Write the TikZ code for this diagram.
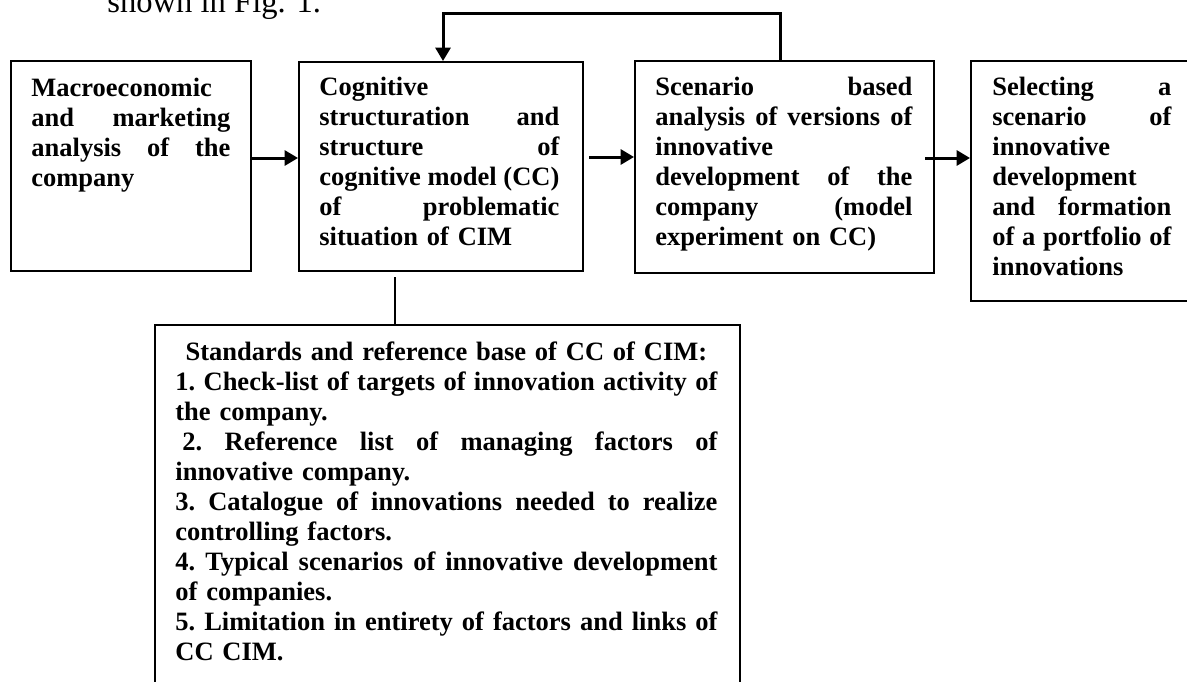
\documentclass[tikz,border=0pt]{standalone}
\usepackage{fontspec}
\setmainfont{Liberation Serif}
\usetikzlibrary{arrows.meta}

\newcommand{\jl}[1]{\makebox[\linewidth][s]{\frenchspacing\spaceskip=\fontdimen2\font plus 1fil\relax #1}}

\begin{document}
\begin{tikzpicture}[
    x = 0.5pt, y = -0.5pt,
    > = {Triangle[length=6.7pt, width=7.5pt]},
    box/.style = {draw, line width=1pt, anchor=north west, inner sep=0pt},
    txt/.style = {anchor=base west, inner sep=0pt, align=left,
        font=\fontsize{13.25}{15}\selectfont\bfseries},
    arr/.style = {->, line width=1.5pt}
]
    \useasboundingbox (0,0) rectangle (1187,681);

    \node[anchor=base west, inner sep=0pt, font=\fontsize{16.3}{19}\selectfont] (fig) at (107,12.5) {shown in Fig. 1.};

    % boxes
    \node[box, minimum width=120pt, minimum height=105pt] (mac) at (10,60) {};
    \node[box, minimum width=142pt, minimum height=104.5pt] (cog) at (298,61) {};
    \node[box, minimum width=149.5pt, minimum height=106pt] (scen) at (634,60) {};
    \node[box, minimum width=115pt, minimum height=120pt] (sel) at (970,60) {};
    \node[box, minimum width=292.5pt, minimum height=198pt] (std) at (154,324) {};

    % texts
    \node[txt, text width=99.5pt] (mact) at (31,96) {Macroeconomic\\
        \jl{and marketing}\\
        \jl{analysis of the}\\
        company};
    \node[txt, text width=120pt] (cogt) at (319,95) {Cognitive\\
        \jl{structuration and}\\
        \jl{structure of}\\
        \jl{cognitive model (CC)}\\
        \jl{of problematic}\\
        situation of CIM};
    \node[txt, text width=128.5pt] (scent) at (655,95) {\jl{Scenario based}\\
        \jl{analysis of versions of}\\
        innovative\\
        \jl{development of the}\\
        \jl{company (model}\\
        experiment on CC)};
    \node[txt, text width=89.5pt] (selt) at (992,95) {\jl{Selecting a}\\
        \jl{scenario of}\\
        innovative\\
        development\\
        \jl{and formation}\\
        \jl{of a portfolio of}\\
        innovations};
    \node[txt, text width=271pt] (stdt) at (175,360) {\makebox[\linewidth][c]{Standards and reference base of CC of CIM:}\\
        \jl{1. Check-list of targets of innovation activity of}\\
        the company.\\
        \jl{\hspace{3.5pt}2. Reference list of managing factors of}\\
        innovative company.\\
        \jl{3. Catalogue of innovations needed to realize}\\
        controlling factors.\\
        \jl{4. Typical scenarios of innovative development}\\
        of companies.\\
        \jl{5. Limitation in entirety of factors and links of}\\
        CC CIM.};

    % connectors
    \draw[arr] ([yshift=4pt]mac.east) -- ([yshift=4pt]mac.east -| cog.west);
    \draw[arr] ([xshift=2.5pt,yshift=4.75pt]cog.east) -- ([yshift=4.75pt]cog.east -| scen.west);
    \draw[arr] ([xshift=-5pt,yshift=4.5pt]scen.east) -- ([yshift=4.5pt]scen.east -| sel.west);
    \draw[arr] ([xshift=-2.25pt]scen.north) -- ++(0,-47) -| ([xshift=1pt]cog.north);
    \draw[line width=1pt] ([xshift=-23pt,yshift=-2.5pt]cog.south) -- ([xshift=-23pt]cog.south |- std.north);
\end{tikzpicture}
\end{document}
